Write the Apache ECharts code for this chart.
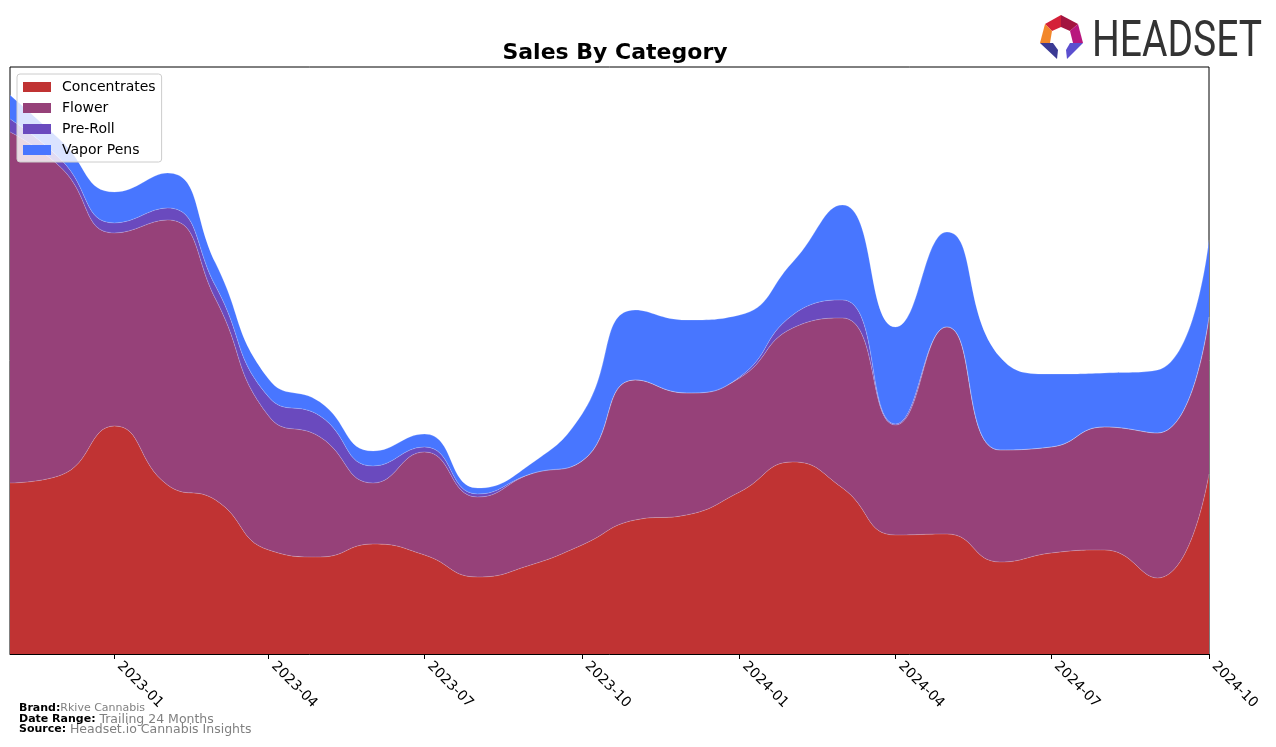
<!DOCTYPE html>
<html>
<head>
<meta charset="utf-8">
<script src="https://cdn.jsdelivr.net/npm/echarts@6/dist/echarts.min.js"></script>
<style>
html,body{margin:0;padding:0;background:#fff;}
#chart{width:1276px;height:747px;}
</style>
</head>
<body>
<div id="chart"></div>
<script>
const months = ['2022-11-01','2022-12-01','2023-01-01','2023-02-01','2023-03-01','2023-04-01','2023-05-01','2023-06-01','2023-07-01','2023-08-01','2023-09-01','2023-10-01','2023-11-01','2023-12-01','2024-01-01','2024-02-01','2024-03-01','2024-04-01','2024-05-01','2024-06-01','2024-07-01','2024-08-01','2024-09-01','2024-10-01'];
const concentrates = [171,179,228,169,154,104,97,110,99,77,89,109,134,139,162,192,166,119,120,92,101,104,76,180];
const flower       = [351,307,193,265,201,134,120,61,103,80,91,84,140,122,114,134,170,110,207,112,106,123,145,157];
const preRoll      = [13,8,10,12,13,19,21,17,5,3,0,0,0,0,1,13,18,1,0,0,0,0,0,0];
const vaporPens    = [24,19,31,35,23,18,14,15,13,6,10,47,70,73,62,53,95,97,95,93,73,54,63,77];
const tickLabels = ['2023-01','2023-04','2023-07','2023-10','2024-01','2024-04','2024-07','2024-10'];
const seriesNames = ['Concentrates','Flower','Pre-Roll','Vapor Pens'];
const colors = ['#C03333','#964179','#6A4ABE','#4876FF'];

const toTs = s => { const p = s.split('-'); return Date.UTC(+p[0], +p[1]-1, p[2] ? +p[2] : 1); };
const pairs = arr => arr.map((v,i) => [toTs(months[i]), v]);
const allSeries = [concentrates, flower, preRoll, vaporPens];
const totals = months.map((_,i) => allSeries.reduce((s,a)=>s+a[i],0));
const yMax = Math.max(...totals) * 1.05;
const tickValues = tickLabels.map(toTs);
const xMin = toTs(months[0]), xMax = toTs(months[months.length-1]);

const chart = echarts.init(document.getElementById('chart'), null, {renderer:'canvas'});
const FONT = 'DejaVu Sans';
chart.setOption({
  animation:false,
  textStyle:{fontFamily:FONT},
  title:{text:'Sales By Category', left:610, top:37, textAlign:'center',
    textStyle:{fontFamily:FONT, fontSize:22, fontWeight:'bold', color:'#000'}},
  grid:{left:10, right:67, top:67, bottom:93, show:true, borderColor:'#000', borderWidth:1, backgroundColor:'transparent'},
  legend:{orient:'vertical', left:17, top:74, itemWidth:28, itemHeight:10, itemGap:7,
    padding:[6,6,5,6], backgroundColor:'rgba(255,255,255,0.8)', borderColor:'#cccccc', borderWidth:1, borderRadius:3,
    textStyle:{fontFamily:FONT, fontSize:14, color:'#000', padding:[0,0,0,6]},
    data:seriesNames.map(n=>({name:n, icon:'rect'}))},
  xAxis:[
    {type:'time', min:xMin, max:xMax, position:'bottom',
      axisLine:{show:false}, axisTick:{show:false}, axisLabel:{show:false}, splitLine:{show:false}},
    {type:'value', min:xMin, max:xMax, position:'bottom',
      axisLine:{show:true, onZero:false, lineStyle:{color:'#000', width:1}},
      axisTick:{show:true, customValues:tickValues, length:5, lineStyle:{color:'#000'}},
      axisLabel:{customValues:tickValues, rotate:-45, margin:15, verticalAlign:'bottom', fontFamily:FONT, fontSize:14, color:'#000',
        formatter:(v)=>{const i=tickValues.indexOf(v); return i>=0 ? tickLabels[i] : '';}},
      splitLine:{show:false}}
  ],
  yAxis:{type:'value', min:0, max:yMax, show:false, splitLine:{show:false}},
  series:seriesNames.map((n,i)=>({
    name:n, type:'line', stack:'total', xAxisIndex:0, smooth:0.5, showSymbol:false, symbol:'none',
    lineStyle:{width:0.6, color:'rgba(255,255,255,0.35)'},
    itemStyle:{color:colors[i]},
    areaStyle:{color:colors[i], opacity:1},
    data:pairs(allSeries[i])
  })),
  graphic:[
    {type:'text', left:19, top:703, style:{text:'{b|Brand:}{g|Rkive Cannabis}', rich:{b:{fontFamily:FONT,fontSize:11,fontWeight:'bold',fill:'#000'}, g:{fontFamily:FONT,fontSize:11,fill:'#808080'}}}},
    {type:'text', left:19, top:713, style:{text:'{b|Date Range: }{g|Trailing 24 Months}', rich:{b:{fontFamily:FONT,fontSize:11,fontWeight:'bold',fill:'#000'}, g:{fontFamily:FONT,fontSize:12.5,fill:'#808080'}}}},
    {type:'text', left:19, top:723, style:{text:'{b|Source: }{g|Headset.io Cannabis Insights}', rich:{b:{fontFamily:FONT,fontSize:11,fontWeight:'bold',fill:'#000'}, g:{fontFamily:FONT,fontSize:12.5,fill:'#808080'}}}},
    {type:'group', children:[
      {type:'polygon', shape:{points:[[1061,15],[1045,24],[1052,31],[1061,27]]}, style:{fill:'#D42038'}},
      {type:'polygon', shape:{points:[[1061,15],[1078,24],[1070,31],[1061,27]]}, style:{fill:'#A31540'}},
      {type:'polygon', shape:{points:[[1045,24],[1040,43],[1050,43],[1052,31]]}, style:{fill:'#F2872A'}},
      {type:'polygon', shape:{points:[[1078,24],[1083,43],[1073,43],[1070,31]]}, style:{fill:'#B8177E'}},
      {type:'polygon', shape:{points:[[1040,43],[1053,43],[1058,50],[1057,59]]}, style:{fill:'#3B3A94'}},
      {type:'polygon', shape:{points:[[1083,43],[1070,43],[1066,50],[1067,59]]}, style:{fill:'#5B4FCF'}}
    ]},
    {type:'text', x:1092, y:18, scaleX:0.78, style:{text:'HEADSET', fontFamily:'Roboto', fontSize:50, fill:'#333333'}}
  ]
});
</script>
</body>
</html>
